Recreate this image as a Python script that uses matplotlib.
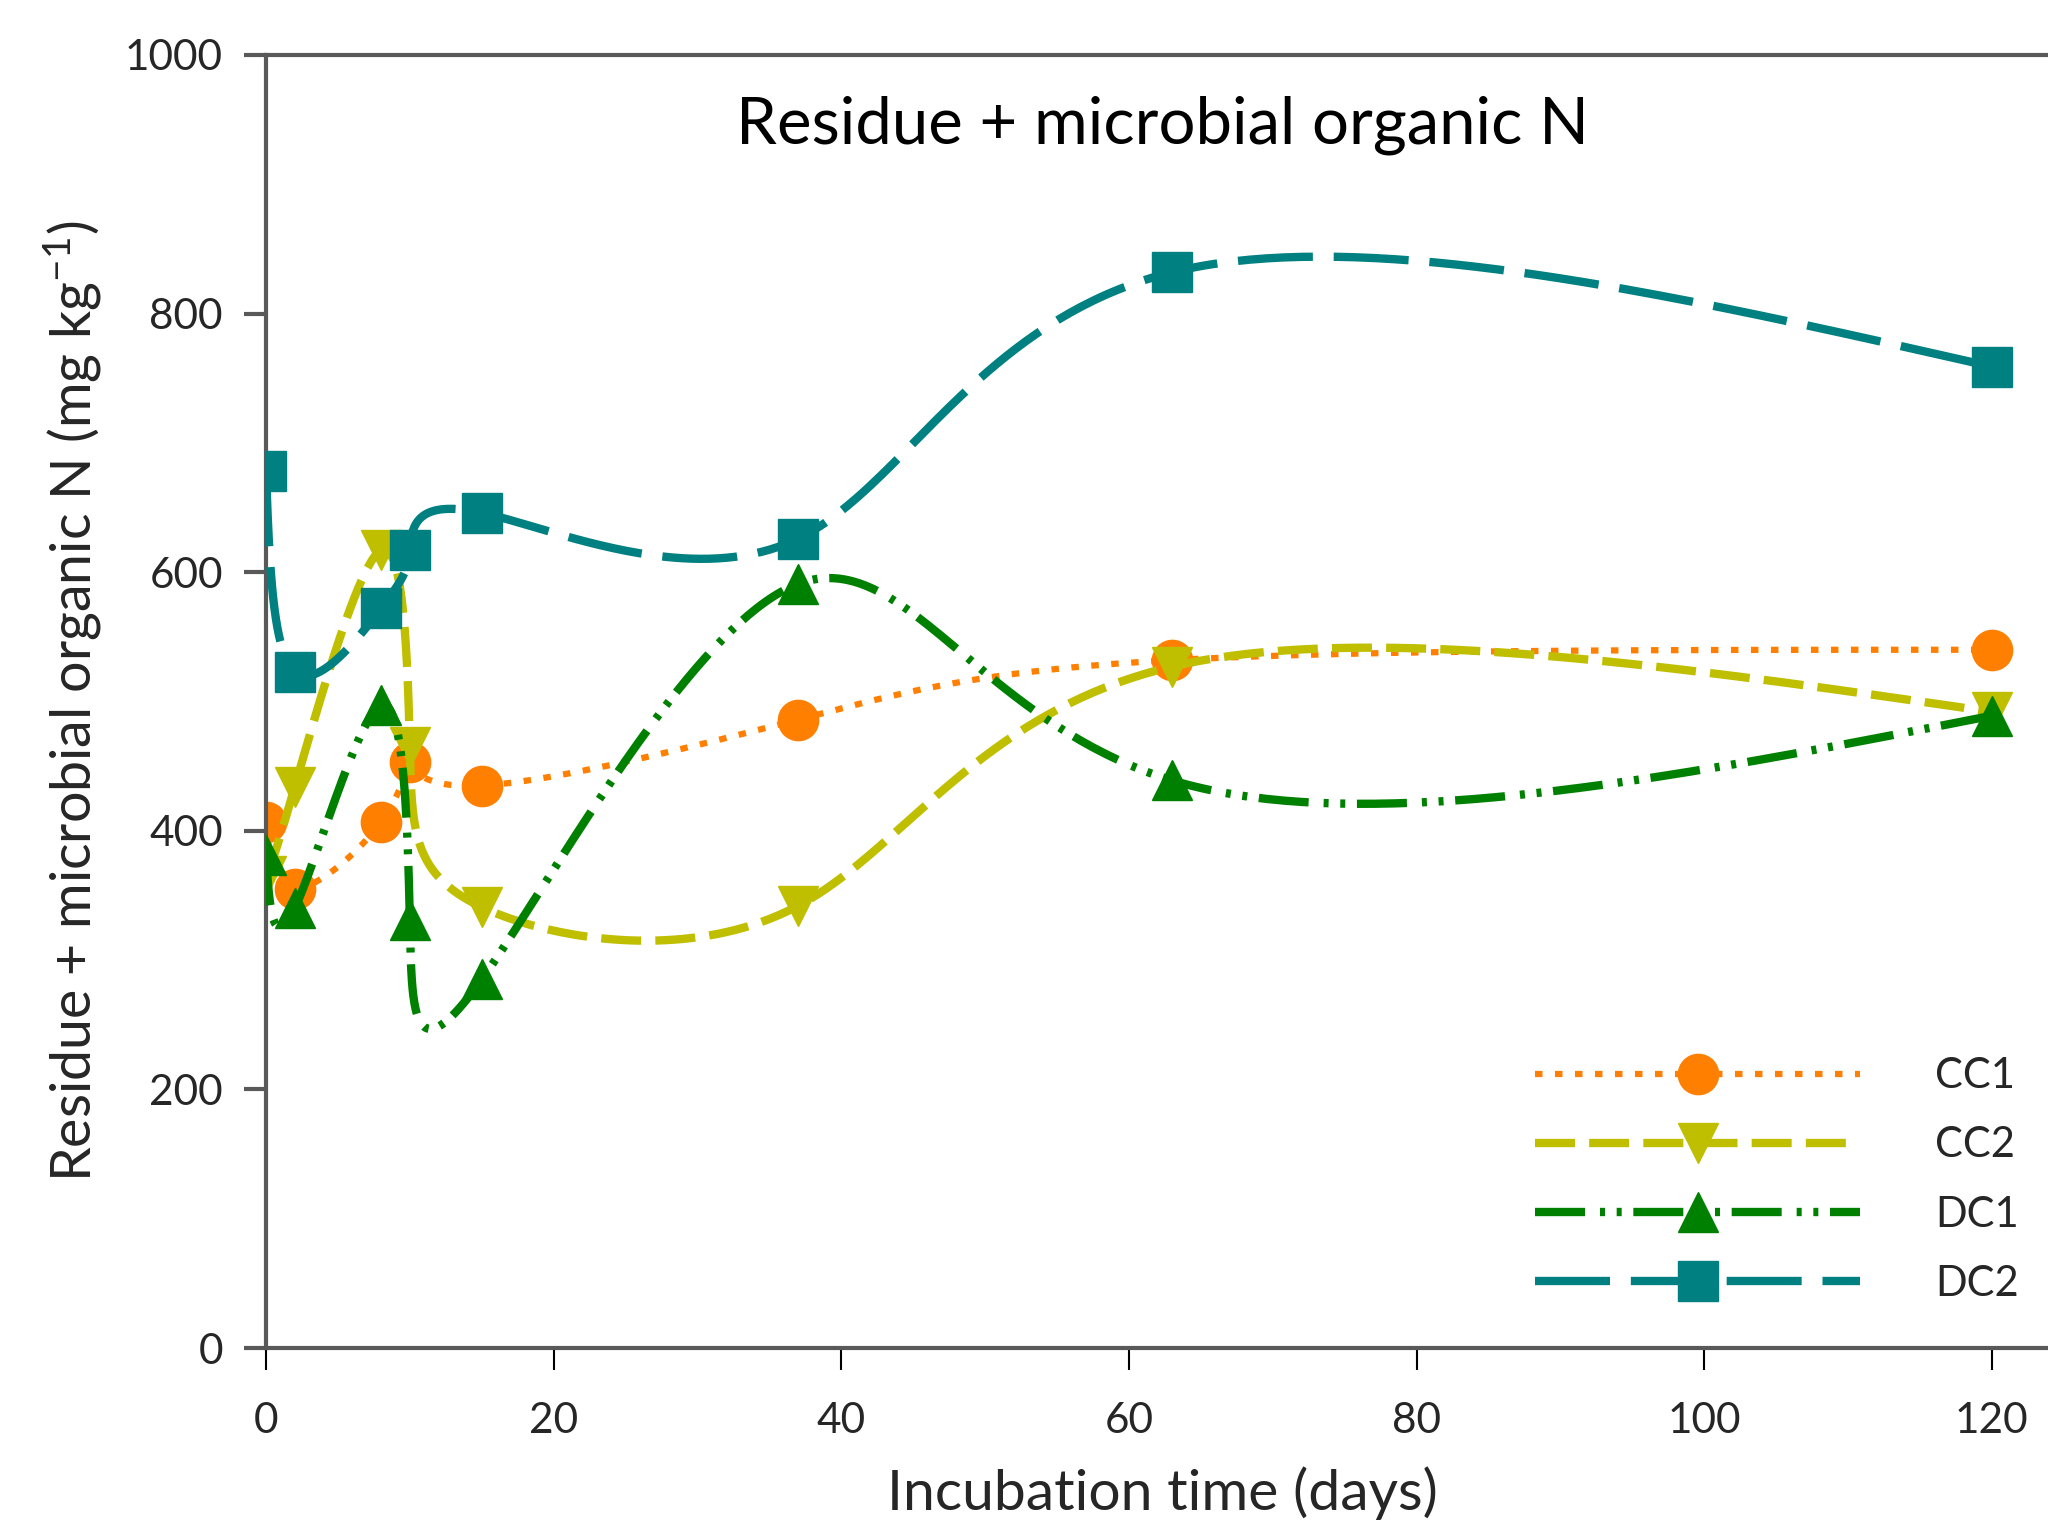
import numpy as np
import matplotlib.pyplot as plt
from matplotlib.lines import Line2D

plt.rcParams['font.family'] = ['Lato', 'DejaVu Sans']
plt.rcParams['mathtext.fontset'] = 'custom'
plt.rcParams['mathtext.rm'] = 'Lato'
plt.rcParams['mathtext.it'] = 'Lato:italic'

# Datos
dias = [0, 2, 8, 10, 15, 37, 63, 120]
cc1 = [407, 355, 407, 453, 435, 486, 532, 540]
cc2 = [365, 434, 617, 465, 341, 342, 527, 492]
dc1 = [381, 340, 497, 331, 285, 591, 439, 489]
dc2 = [678, 523, 572, 617, 646, 626, 832, 759]

nombres = ['CC1', 'CC2', 'DC1', 'DC2']
colores = ['#FF7F00', '#BFBF00', '#008000', '#008080']
marcadores = ['o', 'v', '^', 's']
estilos = [(0, (1.2, 2.0)), (0, (4.8, 1.7)), (0, (6, 1.8, 0.6, 1.4, 0.6, 1.4)), (0, (9, 2.5))]
anchos = [4.5, 6, 6, 6]


def spline_1d(u, y, uu):
    # spline cubico natural evaluado en uu
    u = np.asarray(u, float)
    y = np.asarray(y, float)
    m = len(u)
    h = np.diff(u)
    A = np.zeros((m, m))
    b = np.zeros(m)
    A[0, 0] = A[-1, -1] = 1
    for i in range(1, m - 1):
        A[i, i - 1] = h[i - 1]
        A[i, i] = 2 * (h[i - 1] + h[i])
        A[i, i + 1] = h[i]
        b[i] = 6 * ((y[i + 1] - y[i]) / h[i] - (y[i] - y[i - 1]) / h[i - 1])
    M = np.linalg.solve(A, b)
    i = np.clip(np.searchsorted(u, uu) - 1, 0, m - 2)
    a = u[i + 1] - uu
    c = uu - u[i]
    return (M[i] * a**3 + M[i + 1] * c**3) / (6 * h[i]) \
        + (y[i] / h[i] - M[i] * h[i] / 6) * a + (y[i + 1] / h[i] - M[i + 1] * h[i] / 6) * c


def suavizar(x, y, n=80):
    # curva suave parametrica (x(t), y(t)) con t uniforme
    t = np.arange(len(x))
    tt = np.linspace(0, len(x) - 1, n * (len(x) - 1) + 1)
    return spline_1d(t, x, tt), spline_1d(t, y, tt)


fig = plt.figure(figsize=(20.48, 15.39), dpi=100)
ax = fig.add_axes([266 / 2048, 1 - 1348 / 1539, 1792 / 2048, 1293 / 1539])

series = [cc1, cc2, dc1, dc2]
handles = []
for k, valores in enumerate(series):
    xs, ys = suavizar(dias, valores)
    ax.plot(xs, ys, color=colores[k], lw=anchos[k], linestyle=estilos[k], zorder=2 + k)
    ax.plot(dias, valores, ls='none', marker=marcadores[k], ms=29, color=colores[k], zorder=2 + k)
    handles.append(Line2D([], [], color=colores[k], lw=anchos[k], linestyle=estilos[k],
                          marker=marcadores[k], ms=29))

ax.set_xlim(0, 124.6)
ax.set_ylim(0, 1000)
ax.set_xticks([0, 20, 40, 60, 80, 100, 120])
ax.set_yticks([0, 200, 400, 600, 800, 1000])

for lado in ['top', 'left', 'bottom']:
    ax.spines[lado].set_color('#595959')
    ax.spines[lado].set_linewidth(3)
ax.spines['right'].set_visible(False)

ax.tick_params(axis='y', direction='out', length=16, width=3, color='#595959',
               labelsize=30.5, labelcolor='#262626', pad=15)
ax.tick_params(axis='x', direction='out', length=16, width=1.5, color='black',
               labelsize=30.5, labelcolor='#262626', pad=23)

ax.text(0.5, 0.946, 'Residue + microbial organic N', transform=ax.transAxes,
        ha='center', va='center', fontsize=47, color='black')

ax.set_xlabel('Incubation time (days)', fontsize=41, color='#262626', va='center')
ax.xaxis.set_label_coords(0.5, -0.112)
ax.set_ylabel('Residue + microbial organic N (mg kg$^{-1}$)', fontsize=40, color='#262626', va='center')
ax.yaxis.set_label_coords(-0.108, 0.5)

ax.legend(handles, nombres, loc='center left', bbox_to_anchor=(1535 / 2048, 1 - 1180 / 1539),
          bbox_transform=fig.transFigure, frameon=False, fontsize=30, handlelength=7.8,
          handletextpad=1.8, labelspacing=0.75, borderpad=0, borderaxespad=0,
          labelcolor='#262626')

fig.savefig('out.png', dpi=100)
